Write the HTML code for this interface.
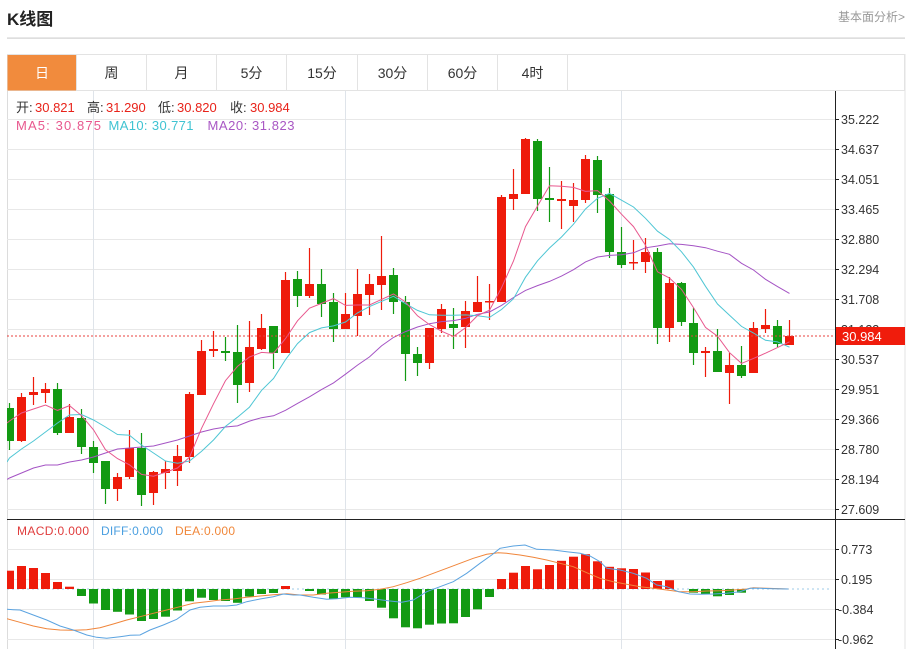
<!DOCTYPE html>
<html><head><meta charset="utf-8">
<style>
html,body{margin:0;padding:0;background:#fff;width:911px;height:649px;overflow:hidden}
svg{display:block;font-family:"Liberation Sans","Noto Sans CJK SC",sans-serif}
</style></head><body>
<svg id="s" width="911" height="649" viewBox="0 0 911 649" xmlns="http://www.w3.org/2000/svg">
<defs>
<clipPath id="cm"><rect x="7" y="91" width="828.5" height="428"/></clipPath>
<clipPath id="cd"><rect x="7" y="520" width="828.5" height="129"/></clipPath>
</defs>
<!-- header -->
<text x="7" y="25" font-size="17" font-weight="bold" fill="#222">K线图</text>
<text x="905" y="21" font-size="12" fill="#999" text-anchor="end">基本面分析&gt;</text>
<rect x="7" y="37.5" width="898" height="1.2" fill="#d0d0d0"/>
<!-- tabs -->
<rect x="7.5" y="54.5" width="897" height="36" fill="#fff" stroke="#e3e3e3"/>
<rect x="7.5" y="55" width="69" height="35.5" fill="#f18b3d"/>
<g stroke="#e3e3e3">
<line x1="76.5" y1="54.5" x2="76.5" y2="90.5"/>
<line x1="146.5" y1="54.5" x2="146.5" y2="90.5"/>
<line x1="216.5" y1="54.5" x2="216.5" y2="90.5"/>
<line x1="286.5" y1="54.5" x2="286.5" y2="90.5"/>
<line x1="357.5" y1="54.5" x2="357.5" y2="90.5"/>
<line x1="427.5" y1="54.5" x2="427.5" y2="90.5"/>
<line x1="497.5" y1="54.5" x2="497.5" y2="90.5"/>
<line x1="567.5" y1="54.5" x2="567.5" y2="90.5"/>
</g>
<g font-size="14" text-anchor="middle" fill="#333">
<text x="42" y="78" fill="#fff">日</text>
<text x="111.5" y="78">周</text>
<text x="181.5" y="78">月</text>
<text x="251.5" y="78">5分</text>
<text x="322" y="78">15分</text>
<text x="392.5" y="78">30分</text>
<text x="462.5" y="78">60分</text>
<text x="532.5" y="78">4时</text>
</g>

<!-- frame & grid -->
<line x1="7.5" y1="91" x2="7.5" y2="649" stroke="#dcdcdc"/>
<line x1="905" y1="54" x2="905" y2="649" stroke="#e3e3e3"/>
<g stroke="#e8e8e8" stroke-width="1">
<line x1="7" y1="119.5" x2="835" y2="119.5"/>
<line x1="7" y1="149.5" x2="835" y2="149.5"/>
<line x1="7" y1="179.5" x2="835" y2="179.5"/>
<line x1="7" y1="209.5" x2="835" y2="209.5"/>
<line x1="7" y1="239.5" x2="835" y2="239.5"/>
<line x1="7" y1="269.5" x2="835" y2="269.5"/>
<line x1="7" y1="299.5" x2="835" y2="299.5"/>
<line x1="7" y1="329.5" x2="835" y2="329.5"/>
<line x1="7" y1="359.5" x2="835" y2="359.5"/>
<line x1="7" y1="389.5" x2="835" y2="389.5"/>
<line x1="7" y1="419.5" x2="835" y2="419.5"/>
<line x1="7" y1="449.5" x2="835" y2="449.5"/>
<line x1="7" y1="479.5" x2="835" y2="479.5"/>
<line x1="7" y1="509.5" x2="835" y2="509.5"/>
<line x1="7" y1="549.5" x2="835" y2="549.5"/>
<line x1="7" y1="579.5" x2="835" y2="579.5"/>
<line x1="7" y1="609.5" x2="835" y2="609.5"/>
<line x1="7" y1="639.5" x2="835" y2="639.5"/>
</g>
<g stroke="#dfe4ea">
<line x1="93.5" y1="91" x2="93.5" y2="649"/>
<line x1="345.5" y1="91" x2="345.5" y2="649"/>
<line x1="621.5" y1="91" x2="621.5" y2="649"/>
</g>

<!-- legends -->
<g font-size="13">
<text x="16" y="112" fill="#333">开:</text><text x="35" y="112" fill="#e8231a">30.821</text>
<text x="87" y="112" fill="#333">高:</text><text x="106" y="112" fill="#e8231a">31.290</text>
<text x="158" y="112" fill="#333">低:</text><text x="177" y="112" fill="#e8231a">30.820</text>
<text x="230" y="112" fill="#333">收:</text><text x="250" y="112" fill="#e8231a">30.984</text>
<text x="16" y="130" fill="#e8588e" textLength="85" lengthAdjust="spacing">MA5: 30.875</text>
<text x="108.5" y="130" fill="#3fc3d2" textLength="85" lengthAdjust="spacing">MA10: 30.771</text>
<text x="207.5" y="130" fill="#a957c4" textLength="87" lengthAdjust="spacing">MA20: 31.823</text>
</g>
<g font-size="12">
<text x="17" y="535" fill="#e03c3c" textLength="72" lengthAdjust="spacing">MACD:0.000</text>
<text x="101" y="535" fill="#4a9fe0" textLength="62" lengthAdjust="spacing">DIFF:0.000</text>
<text x="175" y="535" fill="#f0873a" textLength="60" lengthAdjust="spacing">DEA:0.000</text>
</g>

<!-- macd zero dotted -->
<line x1="7" y1="589" x2="832" y2="589" stroke="#9ccbe8" stroke-dasharray="2,3"/>

<g id="main" clip-path="url(#cm)"></g>
<g id="macd" clip-path="url(#cd)"></g>

<!-- current price dotted -->
<line x1="7" y1="336" x2="835" y2="336" stroke="#e8403c" stroke-dasharray="2,2"/>

<!-- axes -->
<line x1="7" y1="519.5" x2="905" y2="519.5" stroke="#222"/>
<line x1="835.5" y1="91" x2="835.5" y2="649" stroke="#222"/>
<g stroke="#222">
<line x1="835" y1="119.5" x2="839" y2="119.5"/>
<line x1="835" y1="149.5" x2="839" y2="149.5"/>
<line x1="835" y1="179.5" x2="839" y2="179.5"/>
<line x1="835" y1="209.5" x2="839" y2="209.5"/>
<line x1="835" y1="239.5" x2="839" y2="239.5"/>
<line x1="835" y1="269.5" x2="839" y2="269.5"/>
<line x1="835" y1="299.5" x2="839" y2="299.5"/>
<line x1="835" y1="329.5" x2="839" y2="329.5"/>
<line x1="835" y1="359.5" x2="839" y2="359.5"/>
<line x1="835" y1="389.5" x2="839" y2="389.5"/>
<line x1="835" y1="419.5" x2="839" y2="419.5"/>
<line x1="835" y1="449.5" x2="839" y2="449.5"/>
<line x1="835" y1="479.5" x2="839" y2="479.5"/>
<line x1="835" y1="509.5" x2="839" y2="509.5"/>
<line x1="835" y1="549.5" x2="839" y2="549.5"/>
<line x1="835" y1="579.5" x2="839" y2="579.5"/>
<line x1="835" y1="609.5" x2="839" y2="609.5"/>
<line x1="835" y1="639.5" x2="839" y2="639.5"/>
</g>
<g font-size="12.5" fill="#333">
<text x="841" y="124">35.222</text>
<text x="841" y="154">34.637</text>
<text x="841" y="184">34.051</text>
<text x="841" y="214">33.465</text>
<text x="841" y="244">32.880</text>
<text x="841" y="274">32.294</text>
<text x="841" y="304">31.708</text>
<text x="841" y="334">31.122</text>
<text x="841" y="364">30.537</text>
<text x="841" y="394">29.951</text>
<text x="841" y="424">29.366</text>
<text x="841" y="454">28.780</text>
<text x="841" y="484">28.194</text>
<text x="841" y="514">27.609</text>
<text x="841" y="554">0.773</text>
<text x="841" y="584">0.195</text>
<text x="838" y="614">-0.384</text>
<text x="838" y="644">-0.962</text>
</g>
<rect x="836" y="327" width="69" height="18" fill="#f01c0c"/>
<text x="842" y="341" font-size="13" fill="#fff">30.984</text>
</svg>
<script>
(function(){
var C=[
['G',408,441,403,450],['R',397,441,393,442],['R',392,395,377,405],['R',389,393,383,403],
['G',389,433,383,435],['R',417,433,404,433],['G',418,447,409,454],['G',447,463,441,473],
['G',461,489,461,504],['R',477,489,473,501],['R',448,477,430,479],['G',448,495,433,506],
['R',472,493,471,505],['R',469,473,461,489],['R',456,471,445,486],['R',394,457,392,463],
['R',351,395,340,395],['R',349,351,331,357],['G',351,353,337,361],['G',352,385,325,403],
['R',347,383,321,392],['R',328,349,314,350],['G',326,353,326,369],['R',280,353,272,353],
['G',279,296,271,307],['R',284,296,248,298],['G',284,304,269,317],['G',302,329,293,342],
['R',314,329,293,329],['R',294,316,269,336],['R',284,295,274,315],['R',276,285,236,310],
['G',275,302,268,314],['G',302,354,296,381],['G',354,363,347,376],['R',328,363,328,369],
['R',309,329,304,333],['G',324,328,308,349],['R',311,327,301,348],['R',302,312,276,312],
['R',301,302,284,320],['R',197,302,195,302],['R',194,199,169,210],['R',139,194,138,194],
['G',141,199,139,211],['G',198,200,167,222],['R',199,201,181,229],['R',200,206,183,222],
['R',159,200,155,203],['G',160,195,156,213],['G',194,252,188,258],['G',252,265,227,268],
['R',262,263,240,270],['R',252,262,238,273],['G',252,328,248,344],['R',283,328,277,342],
['G',283,322,282,326],['G',323,353,308,365],['R',351,353,347,377],['G',351,372,329,372],
['R',365,373,353,404],['G',365,376,346,378],['R',328,373,322,373],['R',325,329,309,333],
['G',326,344,320,347],['R',336,345,320,345]];
function X(i){return 9.5+12*i;}
var RED='#ee1b0b',GRN='#139a13';
var g='';
var cl=[];
C.forEach(function(c,i){
  var x=X(i),col=c[0]=='R'?RED:GRN;
  cl.push(c[0]=='R'?c[1]:c[2]);
  g+='<line x1="'+x+'" y1="'+c[3]+'" x2="'+x+'" y2="'+c[4]+'" stroke="'+col+'" stroke-width="1.2"/>';
  var h=Math.max(c[2]-c[1],1.5);
  g+='<rect x="'+(x-4.5)+'" y="'+c[1]+'" width="9" height="'+h+'" fill="'+col+'"/>';
});
function ma(n,est,start,color){
  var pts=[start];
  for(var i=0;i<C.length;i++){
    var v;
    if(i>=n-1){var s=0;for(var k=i-n+1;k<=i;k++)s+=cl[k];v=s/n;}else v=est[i];
    pts.push([X(i),v]);
  }
  return '<polyline fill="none" stroke="'+color+'" stroke-width="1" points="'+pts.map(function(p){return p[0]+','+p[1].toFixed(1);}).join(' ')+'"/>';
}
g+=ma(20,[478,473,468,465,465,462,460,457,453,449,448,447,446,443,440,436,432,429,427],[7,479.5],'#a453c4');
g+=ma(10,[458,449,441,432,423,415,414.5,420,427],[7,462],'#4fc6d4');
g+=ma(5,[421,413,409,405],[7,423],'#e8588e');
document.getElementById('main').innerHTML=g;

var M=[570.7,566,568,573,582,586.7,596,603.5,610,611.8,614.5,621,619,616.7,610.5,601.3,597.7,600,601,602.8,596.5,594,593,586,589,591,594.5,599,597.3,597.3,601,607.7,618.3,627.3,628.3,624.7,623.5,623.3,617,609.3,597,579,572.7,566,569.3,565,560.8,556.7,554.2,561.3,566.8,568.3,569,572.5,581,580.2,589,592.7,594,596.3,595,592.7,589,589,589,589];
var Z=589,h2='';
M.forEach(function(v,i){
  if(Math.abs(v-Z)<0.5)return;
  var x=X(i)-4.5,col=v<Z?RED:GRN,y=Math.min(v,Z),hh=Math.abs(v-Z);
  h2+='<rect x="'+x+'" y="'+y+'" width="9" height="'+hh+'" fill="'+col+'"/>';
});
var DIFF=[[7,609.3],[13.3,609.7],[20,610],[33.3,615],[46.7,620],[60,626],[73.3,630],[86.7,635],[96.7,637.3],[106.7,638.3],[120,636.7],[130,635.3],[140,635],[150,630],[163.3,625],[176.7,619.3],[190,610],[200,607.3],[213.3,606],[226.7,606],[236.7,605],[246.7,601.7],[260,599],[273.3,596.7],[283.3,594],[293.3,595],[300,595],[313.3,597.3],[326.7,599.3],[336.7,598.7],[350,597.3],[363.3,597.7],[376.7,599.3],[390,601],[401.7,602.3],[413.3,600],[426.7,591.7],[440,586.7],[453.3,581.7],[466.7,573.3],[480,563.3],[491.7,555],[500,548.3],[513.3,546],[525,545],[536.7,549.3],[553.3,550],[566.7,551.7],[580,553.3],[590,556],[600,561.7],[606.7,568.3],[620,570],[633.3,573.3],[646.7,578.3],[656.7,585],[666.7,586.7],[678.3,591.7],[690,594],[700,594.3],[713.3,594],[726.7,593.3],[740,591.7],[750,588.3],[760,588.3],[773.3,588.7],[788.3,589]];
var DEA=[[7,618.7],[20,622.3],[33.3,626],[46.7,628.7],[60,630],[73.3,630.3],[86.7,629.7],[100,627.7],[113.3,624],[126.7,620],[140,616.7],[153.3,613.3],[166.7,610],[180,606.7],[193.3,603.3],[206.7,601.7],[220,600],[233.3,599],[246.7,597.3],[260,596],[273.3,594.7],[286.7,593.7],[300,595],[313.3,595],[326.7,593.3],[340,592.3],[353.3,591.3],[366.7,590.7],[380,589.3],[393.3,586.7],[406.7,582.7],[420,578.3],[433.3,573.3],[446.7,568.3],[460,563.3],[473.3,558.3],[486.7,554.3],[498.3,552.7],[506.7,553.3],[520,555],[533.3,557.3],[546.7,560],[560,563.3],[573.3,566.7],[586.7,572.7],[600,578.3],[613.3,581.7],[626.7,584.3],[640,586.7],[653.3,588.3],[666.7,590],[680,591.7],[693.3,591.7],[706.7,591],[720,590.7],[733.3,590],[746.7,589],[753.3,587.7],[766.7,588.3],[788.3,589]];
function pl(p,c){return '<polyline fill="none" stroke="'+c+'" stroke-width="1" points="'+p.map(function(q){return q[0]+','+q[1];}).join(' ')+'"/>';}
h2+=pl(DEA,'#f0853a');
h2+=pl(DIFF,'#5ba3e0');
document.getElementById('macd').innerHTML=h2;
})();
</script>
</body></html>
